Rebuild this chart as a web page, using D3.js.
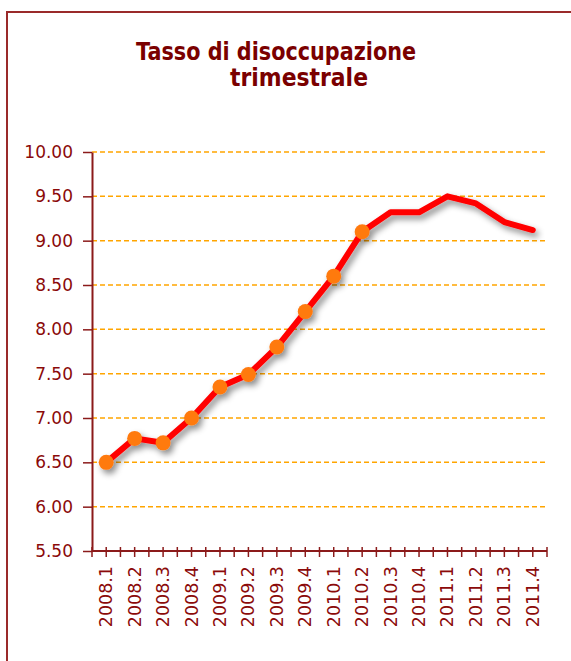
<!DOCTYPE html>
<html>
<head>
<meta charset="utf-8">
<script src="https://cdn.jsdelivr.net/npm/d3@7"></script>
<style>
  body { margin: 0; background: #fff; }
</style>
</head>
<body>
<div class="canvas"></div>
<script>
// data
const quarters = ["2008.1", "2008.2", "2008.3", "2008.4", "2009.1", "2009.2", "2009.3", "2009.4",
  "2010.1", "2010.2", "2010.3", "2010.4", "2011.1", "2011.2", "2011.3", "2011.4"];
const rates = [6.5, 6.77, 6.72, 7.0, 7.35, 7.49, 7.8, 8.2, 8.6, 9.1, 9.32, 9.32, 9.5, 9.42, 9.21, 9.12];
const markedCount = 10; // markers only on the first quarters
const yTicks = [5.5, 6, 6.5, 7, 7.5, 8, 8.5, 9, 9.5, 10];

const width = 571, height = 661;
const margin = { top: 152, left: 92, right: 24, bottom: 110 };
const dark = "#8b1a1a";
const labelFont = "DejaVu Sans, Verdana, sans-serif";

const svg = d3.select(".canvas")
  .append("svg")
  .attr("width", width)
  .attr("height", height);

// drop shadow for the line
const defs = svg.append("defs");
const f = defs.append("filter").attr("id", "shadow")
  .attr("x", "-10%").attr("y", "-10%").attr("width", "130%").attr("height", "130%");
f.append("feDropShadow")
  .attr("dx", 3).attr("dy", 4).attr("stdDeviation", 3)
  .attr("flood-color", "#000").attr("flood-opacity", 0.45);

// frame
svg.append("rect")
  .attr("x", 7).attr("y", 12)
  .attr("width", width + 10).attr("height", height + 10)
  .attr("fill", "none")
  .attr("stroke", "#9a2a2a")
  .attr("stroke-width", 2);

// title
const title = svg.append("text")
  .attr("text-anchor", "middle")
  .attr("font-family", "DejaVu Sans, Verdana, sans-serif")
  .attr("font-weight", "bold")
  .attr("font-size", 24)
  .attr("fill", "#7a0000");
title.append("tspan").attr("x", 276).attr("y", 60)
  .attr("textLength", 280).attr("lengthAdjust", "spacingAndGlyphs")
  .text("Tasso di disoccupazione");
title.append("tspan").attr("x", 299).attr("y", 86)
  .attr("textLength", 138).attr("lengthAdjust", "spacingAndGlyphs")
  .text("trimestrale");

// scales
const x = d3.scaleBand()
  .domain(quarters)
  .range([margin.left, width - margin.right]);

const y = d3.scaleLinear()
  .domain([5.5, 10])
  .range([height - margin.bottom, margin.top]);

// gridlines
svg.append("g")
  .selectAll("line")
  .data(yTicks.filter(d => d > 5.5))
  .join("line")
  .attr("x1", margin.left)
  .attr("x2", width - margin.right)
  .attr("y1", d => y(d))
  .attr("y2", d => y(d))
  .attr("stroke", "#ffa500")
  .attr("stroke-width", 1.5)
  .attr("stroke-dasharray", "5,3");

// y axis
const yAxis = svg.append("g")
  .attr("transform", `translate(${margin.left},0)`)
  .call(d3.axisLeft(y).tickValues(yTicks).tickFormat(d3.format(".2f")).tickSize(9).tickSizeOuter(0).tickPadding(10));

// x axis: ticks on band edges and centres
const xEdges = d3.range(quarters.length * 2 + 1).map(i => margin.left + i * x.bandwidth() / 2);
const xAxis = svg.append("g")
  .attr("transform", `translate(0,${height - margin.bottom})`);
xAxis.append("line")
  .attr("x1", margin.left).attr("x2", width - margin.right)
  .attr("stroke", dark).attr("stroke-width", 2);
xAxis.selectAll(".tk")
  .data(xEdges)
  .join("line")
  .attr("class", "tk")
  .attr("x1", d => d).attr("x2", d => d)
  .attr("y1", -4).attr("y2", 6)
  .attr("stroke", dark).attr("stroke-width", 1.5);
xAxis.selectAll("text")
  .data(quarters)
  .join("text")
  .attr("transform", d => `translate(${x(d) + x.bandwidth() / 2 + 6},15) rotate(-90)`)
  .attr("text-anchor", "end")
  .attr("font-family", labelFont)
  .attr("font-size", 17.5)
  .attr("fill", "#8b0a0a")
  .text(d => d);

yAxis.selectAll(".domain").attr("stroke", dark).attr("stroke-width", 2);
yAxis.selectAll(".tick line").attr("stroke", dark).attr("stroke-width", 1.5);
yAxis.selectAll(".tick text")
  .attr("font-family", labelFont)
  .attr("font-size", 17)
  .attr("fill", "#8b0a0a");

// line
const pts = quarters.map((q, i) => ({ q, v: rates[i], i }));
const line = d3.line()
  .x(d => x(d.q) + x.bandwidth() / 2)
  .y(d => y(d.v));

const graph = svg.append("g").attr("filter", "url(#shadow)");
graph.append("path")
  .datum(pts)
  .attr("d", line)
  .attr("fill", "none")
  .attr("stroke", "#ff0000")
  .attr("stroke-width", 6)
  .attr("stroke-linejoin", "round")
  .attr("stroke-linecap", "round");

graph.selectAll("circle")
  .data(pts.filter(d => d.i < markedCount))
  .join("circle")
  .attr("cx", d => x(d.q) + x.bandwidth() / 2)
  .attr("cy", d => y(d.v))
  .attr("r", 7.5)
  .attr("fill", "#ff7a10");
</script>
</body>
</html>
